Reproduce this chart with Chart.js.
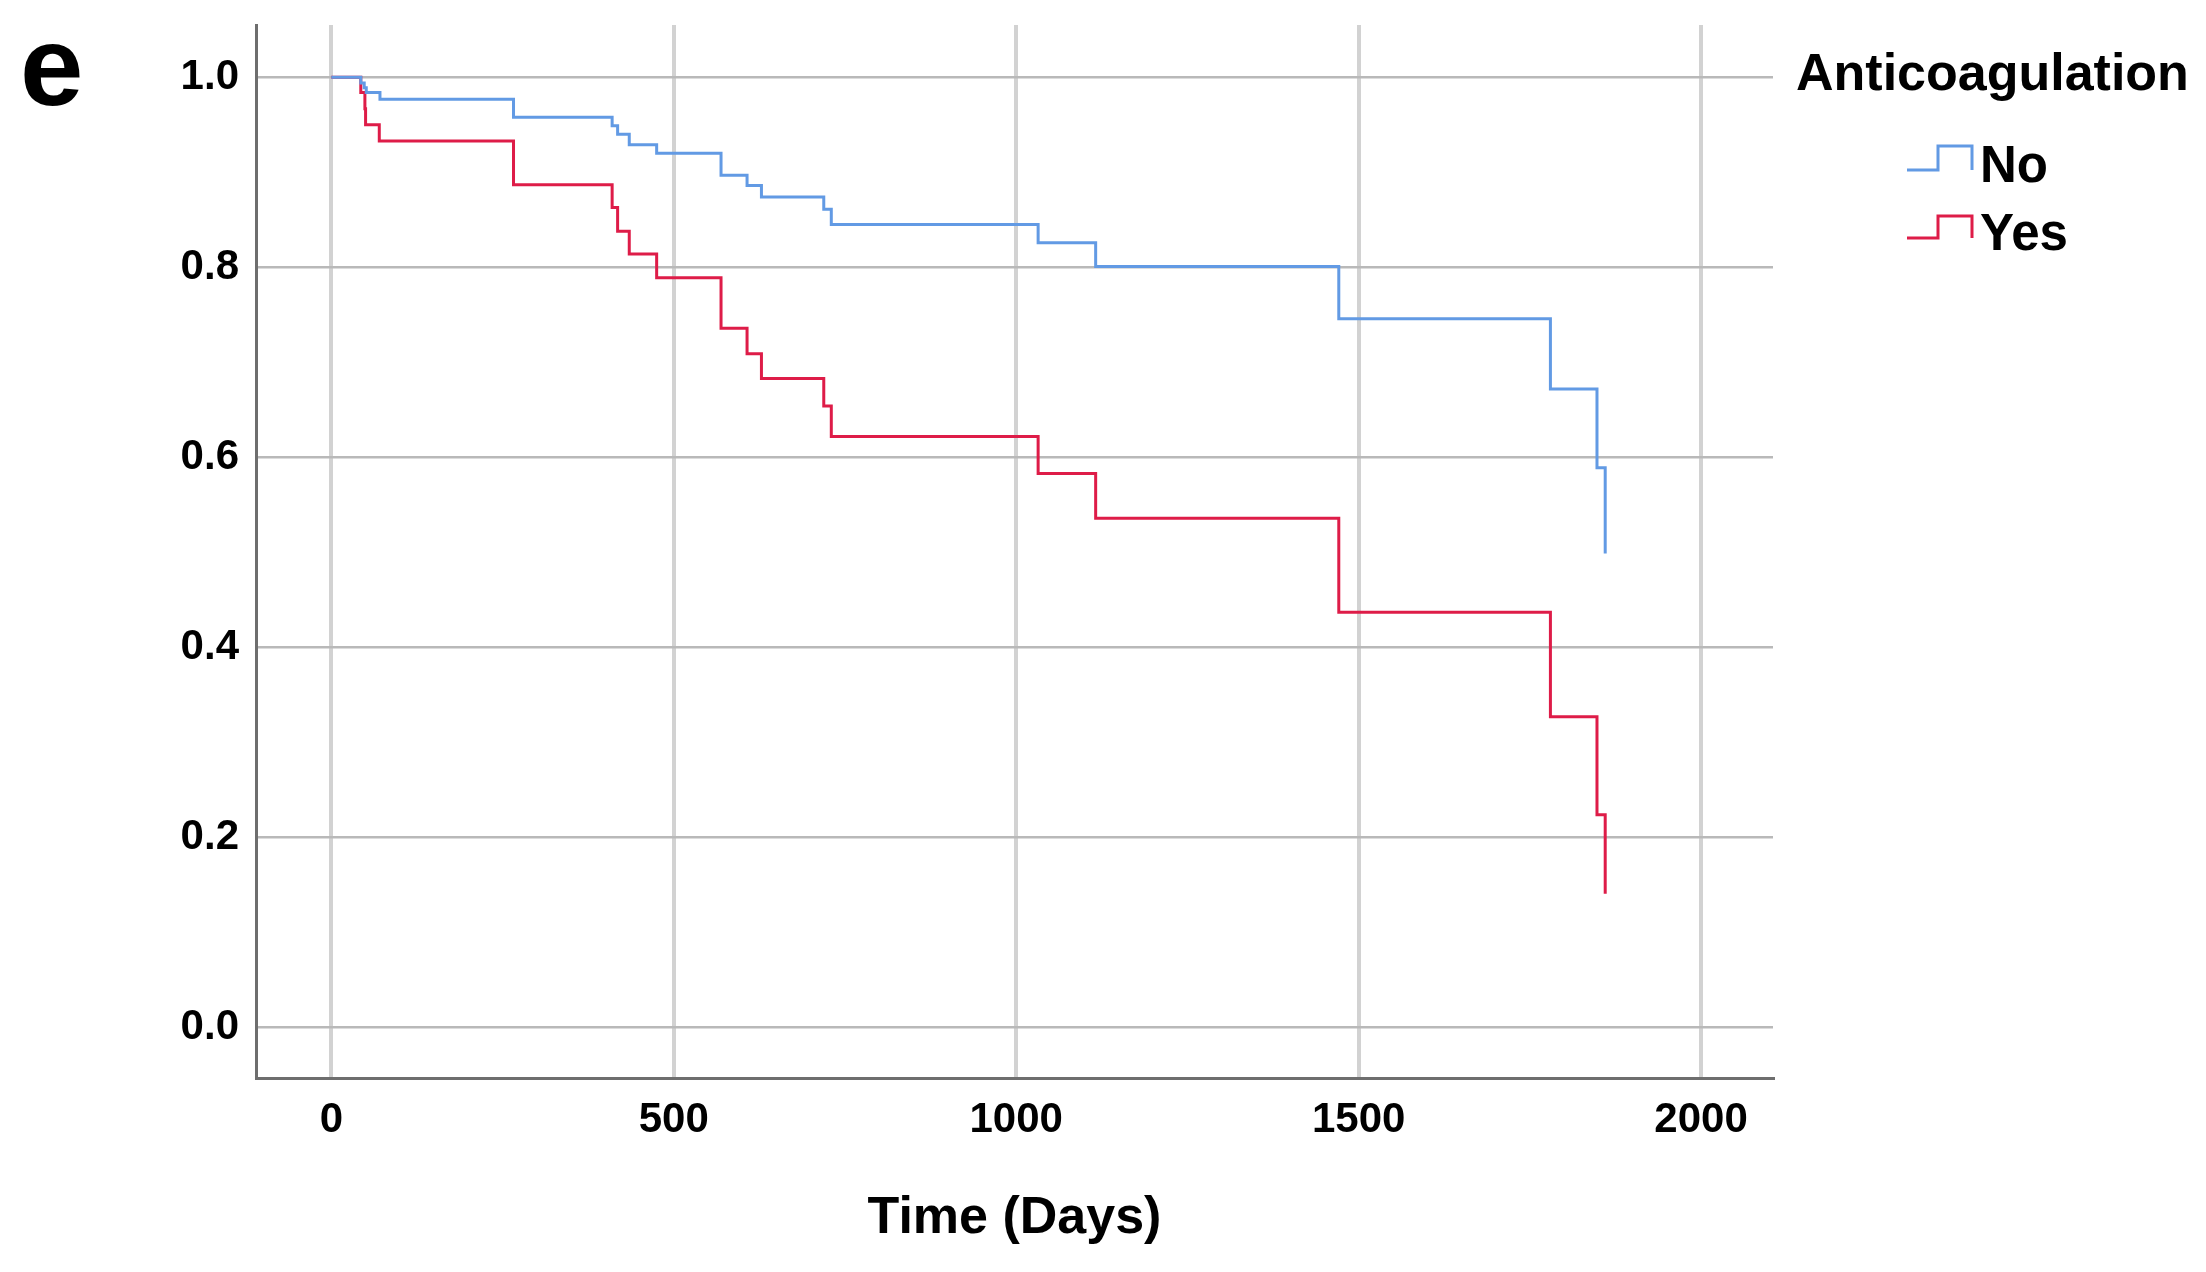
<!DOCTYPE html>
<html>
<head>
<meta charset="utf-8">
<script src="https://cdn.jsdelivr.net/npm/chart.js@4/dist/chart.umd.min.js"></script>
<style>
  html, body { margin: 0; padding: 0; background: #ffffff; }
  #wrap { position: relative; width: 2206px; height: 1272px; }
  canvas { display: block; }
</style>
</head>
<body>
<div id="wrap"><canvas id="c" width="2206" height="1272"></canvas></div>
<script>
// ---- data ----
const panelLabel = 'e';
const legendTitle = 'Anticoagulation';
const seriesNames = ['No', 'Yes'];
const xTitle = 'Time (Days)';
const xTicks = [0, 500, 1000, 1500, 2000];
const yTicks = [0.0, 0.2, 0.4, 0.6, 0.8, 1.0];

const noTimes = [0, 43, 48, 51, 71, 266, 410, 418, 435, 475, 569, 607, 628, 719, 730, 1032, 1116, 1471, 1780, 1848, 1860];
const noSurv  = [1.0, 0.994, 0.989, 0.984, 0.977, 0.958, 0.949, 0.940, 0.929, 0.920, 0.897, 0.886, 0.874, 0.861, 0.845, 0.826, 0.801, 0.746, 0.672, 0.589, 0.499];

const yesTimes = [0, 43, 49, 50, 70, 266, 410, 418, 435, 475, 569, 607, 628, 719, 730, 1032, 1116, 1471, 1780, 1848, 1860];
const yesSurv  = [1.0, 0.984, 0.967, 0.950, 0.933, 0.887, 0.863, 0.838, 0.814, 0.789, 0.736, 0.709, 0.683, 0.654, 0.622, 0.583, 0.536, 0.437, 0.327, 0.224, 0.141];

const colNo = 'rgb(98,154,228)';
const colYes = 'rgb(222,28,72)';
const FONT = '"Liberation Sans", Arial, Helvetica, sans-serif';

const toPts = (ts, vs) => ts.map((t, i) => ({ x: t, y: vs[i] }));

const legendPlugin = {
  id: 'kmLegend',
  afterDraw(chart) {
    const ctx = chart.ctx;
    ctx.save();
    // panel letter
    ctx.fillStyle = '#000';
    ctx.textAlign = 'left';
    ctx.textBaseline = 'alphabetic';
    ctx.font = 'bold 114px ' + FONT;
    ctx.fillText(panelLabel, 20, 105);
    // legend title
    ctx.font = 'bold 52px ' + FONT;
    ctx.fillText(legendTitle, 1796, 90);
    // items
    const rows = [
      { low: 170, high: 146, base: 182 },
      { low: 238, high: 216, base: 250 }
    ];
    chart.data.datasets.forEach((ds, i) => {
      const r = rows[i];
      ctx.strokeStyle = ds.borderColor;
      ctx.lineWidth = 3;
      ctx.beginPath();
      ctx.moveTo(1907, r.low);
      ctx.lineTo(1938, r.low);
      ctx.lineTo(1938, r.high);
      ctx.lineTo(1972, r.high);
      ctx.lineTo(1972, r.low);
      ctx.stroke();
      ctx.fillStyle = '#000';
      ctx.font = 'bold 51px ' + FONT;
      ctx.fillText(ds.label, 1980, r.base);
    });
    ctx.restore();
  }
};

new Chart(document.getElementById('c'), {
  type: 'line',
  data: {
    datasets: [
      { label: seriesNames[0], data: toPts(noTimes, noSurv), borderColor: colNo, backgroundColor: colNo,
        borderWidth: 3, stepped: 'before', pointRadius: 0, fill: false },
      { label: seriesNames[1], data: toPts(yesTimes, yesSurv), borderColor: colYes, backgroundColor: colYes,
        borderWidth: 3, stepped: 'before', pointRadius: 0, fill: false }
    ]
  },
  options: {
    responsive: false,
    devicePixelRatio: 1,
    animation: false,
    layout: { padding: { top: 25, right: 433, left: 0, bottom: 0 } },
    plugins: { legend: { display: false }, title: { display: false }, tooltip: { enabled: false } },
    scales: {
      x: {
        type: 'linear',
        min: -110,
        max: 2105,
        afterBuildTicks: s => { s.ticks = xTicks.map(v => ({ value: v })); },
        afterFit: s => { s.height = 194; s.paddingLeft = 0; s.paddingRight = 0; },
        ticks: {
          color: '#000',
          font: { family: FONT, size: 42, weight: 'bold' },
          padding: 17,
          maxRotation: 0,
          callback: v => String(v)
        },
        grid: { color: '#d2d2d2', lineWidth: 4, drawTicks: false },
        border: { display: true, color: '#6e6e6e', width: 3 },
        title: {
          display: true,
          text: xTitle,
          color: '#000',
          font: { family: FONT, size: 52, weight: 'bold' },
          padding: { top: 0, bottom: 22 }
        }
      },
      y: {
        type: 'linear',
        min: -0.053,
        max: 1.055,
        afterBuildTicks: s => { s.ticks = yTicks.map(v => ({ value: v })); },
        afterFit: s => { s.width = 256; s.paddingTop = 0; s.paddingBottom = 0; },
        ticks: {
          color: '#000',
          font: { family: FONT, size: 42, weight: 'bold' },
          padding: 17,
          callback: v => Number(v).toFixed(1)
        },
        grid: { color: '#b9b9b9', lineWidth: 2.5, drawTicks: false },
        border: { display: true, color: '#6e6e6e', width: 3 }
      }
    }
  },
  plugins: [legendPlugin]
});
</script>
</body>
</html>
